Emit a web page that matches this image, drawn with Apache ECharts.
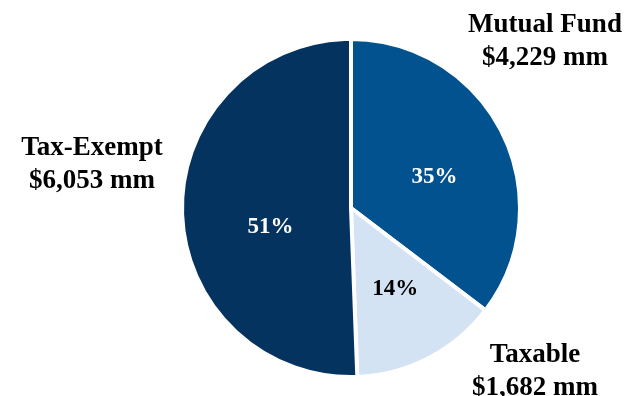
<!DOCTYPE html>
<html><head><meta charset="utf-8">
<script src="https://cdn.jsdelivr.net/npm/echarts@6/dist/echarts.min.js"></script>
<style>html,body{margin:0;padding:0;background:#fff}#c{width:626px;height:396px}</style>
</head><body><div id="c"></div>
<script>
var categories = ['Mutual Fund', 'Taxable', 'Tax-Exempt'];
var values = [4229, 1682, 6053];
var colors = ['#02528f', '#d4e3f4', '#04335f'];
var pctColors = ['#ffffff', '#000000', '#ffffff'];
var labelPos = [[545, 42], [535, 372], [92, 165]];
var pctOffset = [[5, 8], [4, 3], [7, 17]];

var data = categories.map(function (c, i) { return { name: c, value: values[i], itemStyle: { color: colors[i] }, label: { color: pctColors[i] } }; });
var data2 = categories.map(function (c, i) { return { name: c, value: values[i] }; });
function fmt(v) { return '$' + v.toLocaleString('en-US') + ' mm'; }
var font = 'Liberation Serif';
var chart = echarts.init(document.getElementById('c'));
chart.setOption({
  animation: false,
  series: [
    {
      type: 'pie', center: [351, 208], radius: 169, startAngle: 90, clockwise: true,
      itemStyle: { borderColor: '#fff', borderWidth: 4 },
      label: { position: 'inside', fontFamily: font, fontWeight: 'bold', fontSize: 23,
        formatter: function (p) { return Math.round(p.percent) + '%'; } },
      labelLine: { show: false },
      labelLayout: function (p) { var o = pctOffset[p.dataIndex]; return { dx: o[0], dy: o[1] }; },
      emphasis: { disabled: true },
      data: data
    },
    {
      type: 'pie', center: [351, 208], radius: 169, startAngle: 90, clockwise: true, silent: true,
      itemStyle: { color: 'transparent', borderWidth: 0 },
      label: { position: 'outside', color: '#000', fontFamily: font, fontWeight: 'bold', fontSize: 27, lineHeight: 33,
        overflow: 'none', width: 260,
        align: 'center', formatter: function (p) { return p.name + '\n' + fmt(p.value); } },
      labelLine: { show: false },
      labelLayout: function (p) { var q = labelPos[p.dataIndex]; return { x: q[0], y: q[1], align: 'center', verticalAlign: 'middle' }; },
      emphasis: { disabled: true },
      data: data2
    }
  ]
});
</script></body></html>
